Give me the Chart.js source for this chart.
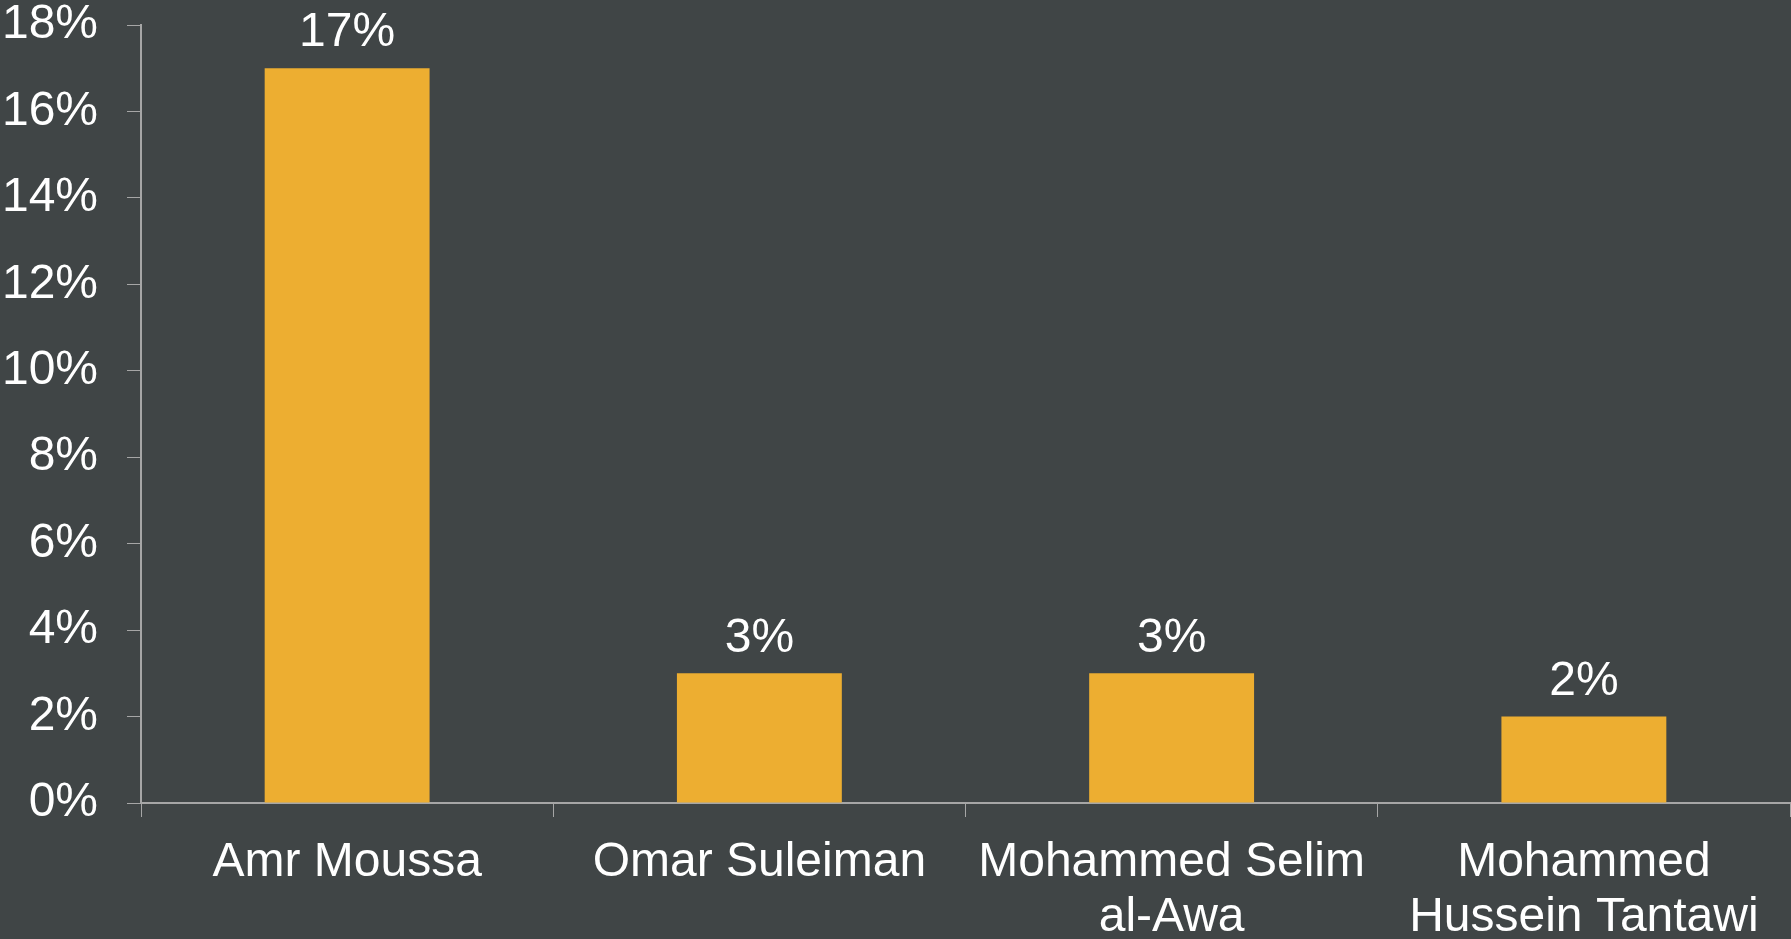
<!DOCTYPE html>
<html>
<head>
<meta charset="utf-8">
<script src="https://cdn.jsdelivr.net/npm/chart.js@4/dist/chart.umd.min.js"></script>
<style>
  html, body { margin: 0; padding: 0; background: #404546; }
  canvas { display: block; }
</style>
</head>
<body>
<canvas id="myChart" width="1791" height="939"></canvas>
<script>
const candidates = ['Amr Moussa', 'Omar Suleiman', ['Mohammed Selim', 'al-Awa'], ['Mohammed', 'Hussein Tantawi']];
const support = [17, 3, 3, 2];
const yTicks = [0, 2, 4, 6, 8, 10, 12, 14, 16, 18];

const axisColor = '#a6a6a6';
const font = { family: '"Liberation Sans", Arial, sans-serif', size: 48, lineHeight: 1.15 };

// draws the value above each bar
const valueLabels = {
    id: 'valueLabels',
    afterDatasetsDraw(chart) {
        const ctx = chart.ctx;
        ctx.save();
        ctx.fillStyle = '#ffffff';
        ctx.font = font.size + 'px ' + font.family;
        ctx.textAlign = 'center';
        ctx.textBaseline = 'middle';
        chart.getDatasetMeta(0).data.forEach((bar, i) => {
            ctx.fillText(support[i] + '%', bar.x, bar.y - 35);
        });
        ctx.restore();
    }
};

const ctx = document.getElementById('myChart').getContext('2d');
const chart = new Chart(ctx, {
    type: 'bar',
    data: {
        labels: candidates,
        datasets: [{
            data: support,
            backgroundColor: '#edae31',
            borderWidth: 0,
            categoryPercentage: 0.8,
            barPercentage: 0.5
        }]
    },
    options: {
        responsive: false,
        animation: false,
        layout: { padding: { top: 0, right: 1, bottom: 0, left: 0 } },
        plugins: {
            legend: { display: false },
            tooltip: { enabled: false }
        },
        scales: {
            x: {
                afterFit: (scale) => { scale.height = 136; },
                grid: { display: true, drawOnChartArea: false, drawTicks: true, tickLength: 14, color: axisColor, offset: true },
                border: { display: true, color: axisColor, width: 2 },
                ticks: { color: '#ffffff', font: font, padding: 18, maxRotation: 0, autoSkip: false }
            },
            y: {
                min: 0,
                max: 18,
                afterBuildTicks: (scale) => { scale.ticks = yTicks.map(v => ({ value: v })); },
                afterFit: (scale) => { scale.width = 141; scale.paddingTop = 25; scale.paddingBottom = 0; },
                grid: { display: true, drawOnChartArea: false, drawTicks: true, tickLength: 14, color: axisColor },
                border: { display: true, color: axisColor, width: 2 },
                ticks: { color: '#ffffff', font: font, padding: 29, callback: v => v + '%' }
            }
        }
    },
    plugins: [valueLabels]
});
</script>
</body>
</html>
